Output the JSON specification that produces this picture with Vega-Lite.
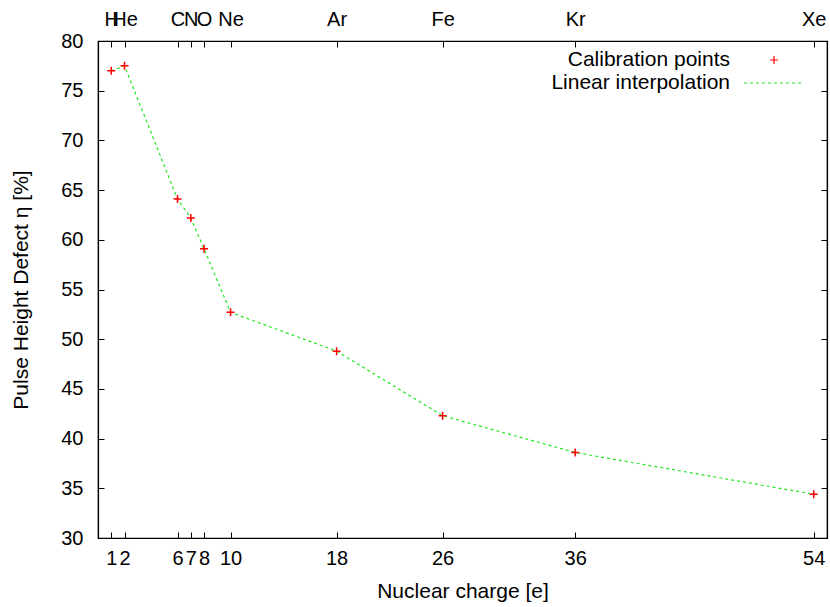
{
  "$schema": "https://vega.github.io/schema/vega-lite/v6.json",
  "autosize": "none",
  "width": 729,
  "height": 497,
  "padding": {"left": 98, "top": 41, "right": 3, "bottom": 69},
  "background": "white",
  "config": {
    "font": "Liberation Sans",
    "view": {"stroke": "black", "strokeWidth": 1.2},
    "axis": {
      "grid": false,
      "domainColor": "black",
      "domainWidth": 1.2,
      "tickColor": "black",
      "tickWidth": 1,
      "tickSize": -6,
      "labelFont": "Liberation Sans",
      "labelFontSize": 20,
      "labelColor": "black",
      "titleFont": "Liberation Sans",
      "titleFontSize": 21,
      "titleFontWeight": "normal",
      "titleColor": "black",
      "labelOverlap": false,
      "labelBound": false,
      "labelFlush": false
    }
  },
  "data": {
    "values": [
      {"Z": 1, "eta": 77.0},
      {"Z": 2, "eta": 77.5},
      {"Z": 6, "eta": 64.1},
      {"Z": 7, "eta": 62.2},
      {"Z": 8, "eta": 59.1},
      {"Z": 10, "eta": 52.7},
      {"Z": 18, "eta": 48.8},
      {"Z": 26, "eta": 42.3},
      {"Z": 36, "eta": 38.6},
      {"Z": 54, "eta": 34.4}
    ]
  },
  "layer": [
    {
      "mark": {"type": "line", "strokeWidth": 1.2, "strokeDash": [3, 3]},
      "encoding": {
        "x": {
          "field": "Z", "type": "quantitative",
          "scale": {"domain": [0, 55], "nice": false, "zero": false},
          "axis": {"orient": "bottom", "values": [1, 2, 6, 7, 8, 10, 18, 26, 36, 54], "title": "Nuclear charge [e]", "labelPadding": 16, "titlePadding": 12}
        },
        "y": {
          "field": "eta", "type": "quantitative",
          "scale": {"domain": [30, 80], "nice": false, "zero": false},
          "axis": {"orient": "left", "values": [30, 35, 40, 45, 50, 55, 60, 65, 70, 75, 80], "title": "Pulse Height Defect η [%]", "labelPadding": 21, "titlePadding": 29}
        },
        "color": {
          "datum": "Linear interpolation",
          "scale": {"domain": ["Calibration points", "Linear interpolation"], "range": ["#ff0000", "#22e622"]},
          "legend": {
            "orient": "none",
            "legendX": 665,
            "legendY": 8,
            "title": null,
            "padding": 0,
            "symbolSize": 400,
            "rowPadding": 2,
            "labelAlign": "right",
            "labelOffset": -55,
            "labelFontSize": 21,
            "labelColor": "black",
            "labelFont": "Liberation Sans",
            "labelLimit": 400,
            "symbolStrokeWidth": 1.2,
            "encode": {
              "symbols": {
                "update": {
                  "shape": {"signal": "datum.value === 'Calibration points' ? 'M-0.4,0H0.4M0,-0.4V0.4' : 'M-3,0H3'"},
                  "stroke": {"signal": "datum.value === 'Calibration points' ? '#ff0000' : '#22e622'"},
                  "strokeDash": {"signal": "datum.value === 'Linear interpolation' ? [3, 3] : [1, 0]"},
                  "strokeOpacity": {"value": 1},
                  "opacity": {"value": 1},
                  "fill": {"value": "transparent"}
                }
              }
            }
          }
        }
      }
    },
    {
      "mark": {"type": "point", "shape": "M-1,0H1M0,-1V1", "filled": false, "size": 64, "strokeWidth": 1.5, "opacity": 1},
      "encoding": {
        "x": {
          "field": "Z", "type": "quantitative",
          "axis": {
            "orient": "top", "values": [1, 2, 6, 7, 8, 10, 18, 26, 36, 54], "title": null, "labelPadding": 18,
            "labelExpr": "['H','He','C','N','O','Ne','Ar','Fe','Kr','Xe'][indexof([1,2,6,7,8,10,18,26,36,54], datum.value)]"
          }
        },
        "y": {
          "field": "eta", "type": "quantitative",
          "axis": {"orient": "right", "values": [30, 35, 40, 45, 50, 55, 60, 65, 70, 75, 80], "labels": false, "title": null}
        },
        "color": {"datum": "Calibration points"}
      }
    }
  ],
  "resolve": {"axis": {"x": "independent", "y": "independent"}}
}
